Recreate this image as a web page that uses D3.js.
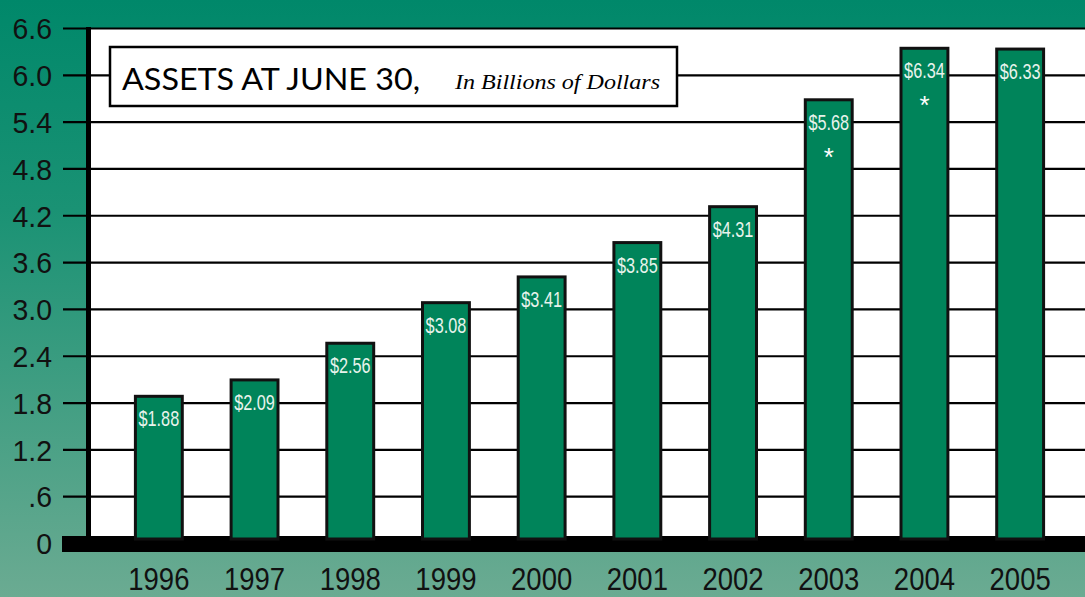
<!DOCTYPE html>
<html>
<head>
<meta charset="utf-8">
<script src="https://cdn.jsdelivr.net/npm/d3@7"></script>
<style>
  html, body { margin: 0; padding: 0; background: #fff; }
  svg { display: block; font-family: "Liberation Sans", Arial, sans-serif; }
</style>
</head>
<body>
<svg id="chart" width="1085" height="597"></svg>
<script>
// Assets at June 30, in billions of dollars
const years = ["1996","1997","1998","1999","2000","2001","2002","2003","2004","2005"];
const assets = [1.88, 2.09, 2.56, 3.08, 3.41, 3.85, 4.31, 5.68, 6.34, 6.33];
const valueLabels = ["$1.88","$2.09","$2.56","$3.08","$3.41","$3.85","$4.31","$5.68","$6.34","$6.33"];
const starred = ["2003", "2004"];
const tickValues = [0, 0.6, 1.2, 1.8, 2.4, 3.0, 3.6, 4.2, 4.8, 5.4, 6.0, 6.6];
const tickLabels = ["0", ".6", "1.2", "1.8", "2.4", "3.0", "3.6", "4.2", "4.8", "5.4", "6.0", "6.6"];

const W = 1085, H = 597;
const SANS = "'Liberation Sans', Arial, sans-serif";
const svg = d3.select("#chart");

// background gradient
const defs = svg.append("defs");
const grad = defs.append("linearGradient").attr("id", "bg").attr("x1", 0).attr("y1", 0).attr("x2", 0).attr("y2", 1);
grad.append("stop").attr("offset", "0%").attr("stop-color", "#00886a");
grad.append("stop").attr("offset", "35%").attr("stop-color", "#1a9274");
grad.append("stop").attr("offset", "100%").attr("stop-color", "#6bab92");
svg.append("rect").attr("width", W).attr("height", H).attr("fill", "url(#bg)");

const y = d3.scaleLinear().domain([0, 6.6]).range([543, 28]);
const x = d3.scaleBand().domain(years).range([111, 1068]).paddingInner(0.51).paddingOuter(0.255);

const plotLeft = 91, plotRight = W;

// white plot area
svg.append("rect")
  .attr("x", plotLeft).attr("y", y(6.6))
  .attr("width", plotRight - plotLeft).attr("height", y(0) - y(6.6))
  .attr("fill", "#ffffff");

// gridlines + tick labels
const yAxis = d3.axisLeft(y)
  .tickValues(tickValues)
  .tickFormat((d, i) => tickLabels[i])
  .tickSize(-(plotRight - 63))
  .tickPadding(0);
const gy = svg.append("g").attr("transform", "translate(63,0)").call(yAxis);
gy.select(".domain").remove();
gy.selectAll(".tick line").attr("stroke", "#000").attr("stroke-width", 2.2);
gy.selectAll(".tick text")
  .attr("x", 0)
  .attr("transform", "translate(-11,0) scale(0.95,1)")
  .attr("fill", "#111")
  .style("font-family", SANS)
  .style("font-size", "30px")
  .attr("dy", "0.36em");
gy.selectAll(".tick").filter(d => d === 0).select("line").remove();

// thick left axis
svg.append("rect")
  .attr("x", 86).attr("y", y(6.6) - 1)
  .attr("width", 5).attr("height", y(0) - y(6.6) + 1)
  .attr("fill", "#000");

// title box
const tb = svg.append("g");
tb.append("rect")
  .attr("x", 110).attr("y", 47).attr("width", 567).attr("height", 59)
  .attr("fill", "#fff").attr("stroke", "#000").attr("stroke-width", 2.5);
tb.append("text")
  .attr("x", 122).attr("y", 90)
  .style("font-family", "Lato, 'Open Sans', sans-serif")
  .style("font-size", "31px")
  .attr("fill", "#000")
  .attr("textLength", 298)
  .attr("lengthAdjust", "spacingAndGlyphs")
  .text("ASSETS AT JUNE 30,");
tb.append("text")
  .attr("x", 455).attr("y", 89)
  .style("font-family", "'Liberation Serif', 'DejaVu Serif', serif")
  .style("font-style", "italic")
  .style("font-size", "22px")
  .attr("fill", "#000")
  .attr("textLength", 205)
  .attr("lengthAdjust", "spacingAndGlyphs")
  .text("In Billions of Dollars");

// zero baseline band
svg.append("rect")
  .attr("x", 62).attr("y", 536)
  .attr("width", W - 62).attr("height", 16)
  .attr("fill", "#000");

// bars
const bars = svg.append("g").selectAll("g.bar")
  .data(years.map((yr, i) => ({ year: yr, value: assets[i], label: valueLabels[i] })))
  .join("g").attr("class", "bar");

bars.append("rect")
  .attr("x", d => x(d.year))
  .attr("y", d => y(d.value))
  .attr("width", x.bandwidth())
  .attr("height", d => 539 - y(d.value))
  .attr("fill", "#00845a")
  .attr("stroke", "#111")
  .attr("stroke-width", 3);

bars.append("text")
  .attr("transform", d => `translate(${x(d.year) + x.bandwidth() / 2},${y(d.value) + 30}) scale(0.74,1)`)
  .attr("text-anchor", "middle")
  .style("font-family", SANS)
  .style("font-size", "22px")
  .attr("fill", "#e8f3ec")
  .text(d => d.label);

bars.filter(d => starred.includes(d.year)).append("text")
  .attr("x", d => x(d.year) + x.bandwidth() / 2)
  .attr("y", d => y(d.value) + 66)
  .attr("text-anchor", "middle")
  .style("font-family", SANS)
  .style("font-size", "26px")
  .attr("fill", "#ffffff")
  .text("*");

// year labels
const xAxis = d3.axisBottom(x).tickSize(0).tickPadding(0);
const gx = svg.append("g").attr("transform", "translate(0,590)").call(xAxis);
gx.select(".domain").remove();
gx.selectAll(".tick text")
  .attr("y", 0)
  .attr("dy", 0)
  .attr("transform", "scale(0.86,1)")
  .attr("fill", "#111")
  .style("font-family", SANS)
  .style("font-size", "32px");
</script>
</body>
</html>
